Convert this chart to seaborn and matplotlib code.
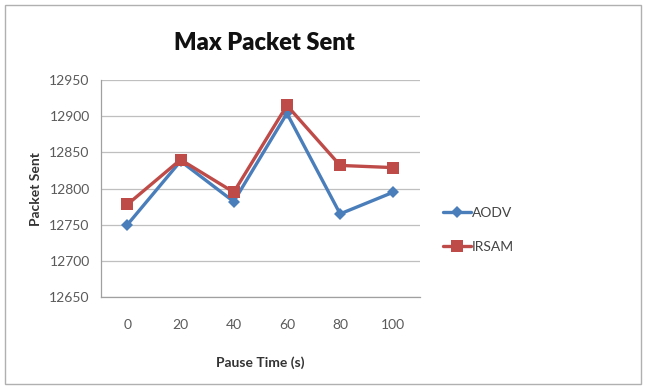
import matplotlib
matplotlib.use("Agg")
import matplotlib.pyplot as plt
from matplotlib.patches import Rectangle
import seaborn as sns
import pandas as pd

pause_times = ["0", "20", "40", "60", "80", "100"]
aodv = [12750, 12838, 12782, 12904, 12765, 12795]
irsam = [12778, 12840, 12795, 12915, 12832, 12829]
series_names = ["AODV", "IRSAM"]
y_ticks = [12650, 12700, 12750, 12800, 12850, 12900, 12950]

df = pd.DataFrame({
    "Pause Time (s)": pause_times * 2,
    "Packet Sent": aodv + irsam,
    "Protocol": [series_names[0]] * len(pause_times) + [series_names[1]] * len(pause_times),
})

sns.set_style("white")
plt.rcParams["font.family"] = ["Lato", "DejaVu Sans"]

fig = plt.figure(figsize=(6.46, 3.89), dpi=100)
fig.patch.set_facecolor("white")
ax = fig.add_axes([0.156, 0.2365, 0.494, 0.5575])

palette = {"AODV": "#4A7EBB", "IRSAM": "#BE4B48"}
sns.lineplot(data=df, x="Pause Time (s)", y="Packet Sent", hue="Protocol",
             style="Protocol", markers={"AODV": "D", "IRSAM": "s"}, dashes=False,
             palette=palette, linewidth=2.4, markersize=6, markeredgewidth=0,
             sort=False, ax=ax, legend=True)
# larger square markers for IRSAM
for line in ax.lines:
    if line.get_marker() == "s":
        line.set_markersize(9)

ax.set_xlim(-0.5, len(pause_times) - 0.5)
ax.set_ylim(y_ticks[0], y_ticks[-1])
ax.set_yticks(y_ticks)
ax.set_yticklabels([str(t) for t in y_ticks])
ax.set_xticks(range(len(pause_times)))
ax.set_xticklabels(pause_times)
ax.set_xticks([i - 0.5 for i in range(len(pause_times) + 1)], minor=True)

ax.grid(axis="y", color="#BFBFBF", linewidth=0.9)
ax.set_axisbelow(True)
for side in ["top", "right"]:
    ax.spines[side].set_visible(False)
for side in ["left", "bottom"]:
    ax.spines[side].set_color("#A0A0A0")
    ax.spines[side].set_linewidth(0.9)

ax.tick_params(axis="x", which="major", length=0, pad=16, labelsize=10, labelcolor="#5A5A5A")
ax.tick_params(axis="x", which="minor", length=4, color="#A0A0A0", direction="out")
ax.tick_params(axis="y", which="major", length=4, color="#A0A0A0", direction="out",
               labelsize=10, labelcolor="#5A5A5A", pad=4)

ax.set_xlabel("Pause Time (s)", fontsize=10, fontweight="bold", color="#333333", labelpad=18)
ax.set_ylabel("Packet Sent", fontsize=10, fontweight="bold", color="#333333", labelpad=5)

fig.suptitle("Max Packet Sent", x=0.41, y=0.89, va="center", fontsize=17,
             fontweight="heavy", color="#111111")

handles, labels = ax.get_legend_handles_labels()
ax.legend(handles, labels, loc="center left", bbox_to_anchor=(1.033, 0.31), frameon=False,
          fontsize=10, labelcolor="#444444", handlelength=2.0, handletextpad=0.1,
          labelspacing=1.6, title=None)

fig.add_artist(Rectangle((0.008, 0.012), 0.985, 0.975, transform=fig.transFigure,
                         fill=False, edgecolor="#B0B0B0", linewidth=1.0))

fig.savefig("out.png", dpi=100, facecolor="white")
